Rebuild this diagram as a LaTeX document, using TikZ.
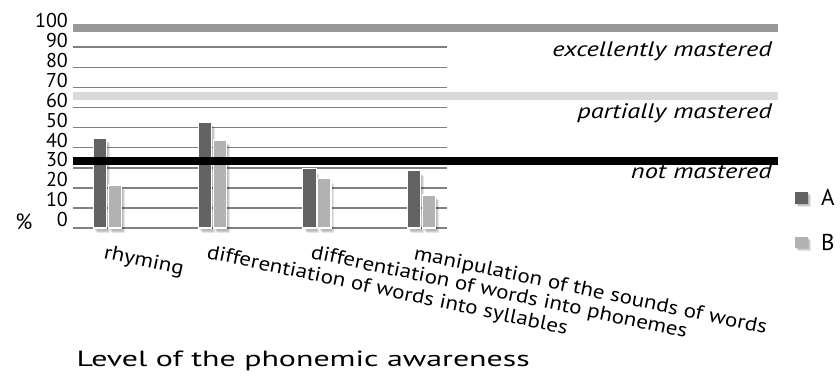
\documentclass[tikz,border=0pt]{standalone}
\usepackage{graphicx}
\usepackage{fontspec}
\setmainfont{PT Sans}
\newcommand{\hstretch}[2]{\scalebox{#1}[1]{#2}}
\begin{document}
\begin{tikzpicture}[x=1pt,y=-1pt,
  grid/.style={draw=black!50,line width=1.6pt},
  barA/.style={fill=black!61,draw=white,line width=1.2pt},
  barB/.style={fill=black!30,draw=white,line width=1.2pt},
  shadow/.style={fill=black,opacity=0.10},
  ticklab/.style={anchor=east,font=\fontsize{20}{20}\selectfont,inner sep=0pt},
  zonelab/.style={anchor=base east,font=\fontsize{21}{21}\selectfont\itshape,inner sep=0pt},
  catlab/.style={anchor=north west,rotate=-12,font=\fontsize{20}{20}\selectfont,inner sep=0pt},
  leglab/.style={anchor=west,font=\fontsize{23}{23}\selectfont,inner sep=0pt}]
\useasboundingbox (0,0) rectangle (840,377);
% gridlines
\foreach \v in {10,20,...,90}{
  \draw[grid] (73,{228-2.008*\v}) -- (447,{228-2.008*\v});
}
\draw[grid,line width=2pt] (73,228) -- (447,228);
% tick labels
\foreach \v in {0,10,...,100}{
  \node[ticklab] (t\v) at (68,{219.5-1.985*\v}) {\v};
}
\node[font=\fontsize{22}{22}\selectfont,inner sep=0pt] (pct) at (24,221.5) {\%};
% bars
\foreach \n/\x/\a/\b in {1/93.3/44.7/21.4, 2/198.3/52.8/43.8, 3/302.7/29.5/24.6, 4/407.3/28.5/16.4}{
  \foreach \d in {1,2,3}{
    \fill[shadow] ({\x+1+\d},{228-2.008*\a+2+\d}) rectangle ({\x+13.5+\d},{228+\d+1.5});
    \fill[shadow] ({\x+15.8+\d},{228-2.008*\b+2+\d}) rectangle ({\x+28.3+\d},{228+\d+1.5});
  }
  \draw[barA] (\x,{228-2.008*\a}) rectangle ({\x+13.5},228);
  \draw[barB] ({\x+14.8},{228-2.008*\b}) rectangle ({\x+28.3},228);
}
% bands
\fill[black!40] (73,24) rectangle (778,32);
\fill[black!15] (73,92.3) rectangle (778,100);
\fill[black] (73,157.3) rectangle (778,165);
% zone labels
\node[zonelab] (ex) at (772,56.7) {\hstretch{1.26}{excellently mastered}};
\node[zonelab] (pa) at (772,118) {\hstretch{1.26}{partially mastered}};
\node[zonelab] (no) at (772,178) {\hstretch{1.26}{not mastered}};
% category labels
\node[catlab] (c1) at (106,244) {\hstretch{1.15}{rhyming}};
\node[catlab] (c2) at (209,244) {\hstretch{1.15}{differentiation of words into syllables}};
\node[catlab] (c3) at (313,244) {\hstretch{1.15}{differentiation of words into phonemes}};
\node[catlab] (c4) at (416,245) {\hstretch{1.15}{manipulation of the sounds of words}};
% axis title
\node[anchor=base west,font=\fontsize{22}{22}\selectfont,inner sep=0pt] (title) at (76.5,366.7) {\hstretch{1.45}{Level of the phonemic awareness}};
% legend
\foreach \d in {1,2,3}{
  \fill[shadow] ({795+\d},{192+\d}) rectangle ({808+\d},{204+\d});
  \fill[shadow] ({795+\d},{237+\d}) rectangle ({808+\d},{248+\d});
}
\node[fill=black!61,minimum width=13pt,minimum height=12pt,inner sep=0pt] (la) at (801.5,198) {};
\node[fill=black!30,minimum width=13pt,minimum height=11pt,inner sep=0pt] (lb) at (801.5,242.5) {};
\node[leglab] (A) at (821,197) {A};
\node[leglab] (B) at (821,242) {B};
\end{tikzpicture}
\end{document}
